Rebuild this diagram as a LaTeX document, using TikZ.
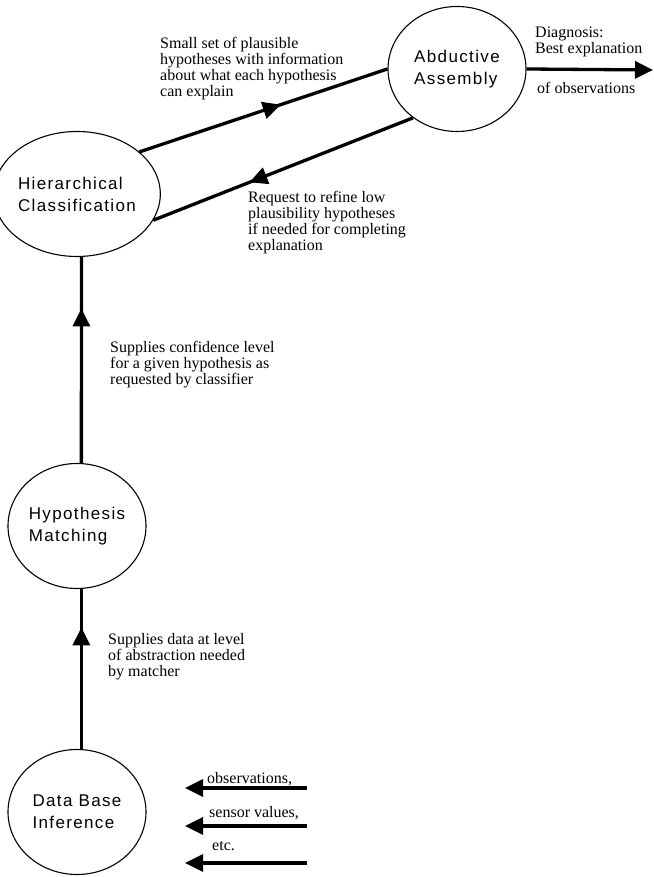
\documentclass[tikz,border=0pt]{standalone}
\usepackage{fontspec}
\setmainfont{Liberation Serif}
\newfontfamily\circfont{Liberation Sans}[LetterSpace=8]
\usetikzlibrary{shapes.geometric,arrows.meta,decorations.markings}
\tikzset{
	proc/.style={ellipse, draw, line width=1.1pt, minimum width=138pt, minimum height=125pt, inner sep=0pt, align=left, font=\circfont\fontsize{17}{22}\selectfont},
	note/.style={anchor=north west, inner sep=0pt, align=left, font=\fontsize{16}{16}\selectfont},
	link/.style={line width=3.3pt},
	tip/.style={-{Triangle[length=18pt,width=17pt]}},
	midarrow/.style={postaction={decorate}, decoration={markings, mark=at position #1 with {\arrow{Triangle[length=18pt,width=17pt]}}}}
}
\begin{document}
\begin{tikzpicture}[x=1pt,y=1pt]
	\useasboundingbox (0,0) rectangle (653,877);
	\node[proc] (aa) at (457,808) {Abductive\\Assembly};
	\node[proc] (hc) at (77,683) {Hierarchical\\Classification};
	\node[proc] (hm) at (77,351) {Hypothesis\\Matching};
	\node[proc] (db) at (77,65) {Data Base\\Inference};
	\coordinate (diag) at (653,807);
	\coordinate (obsa) at (307,89); \coordinate (obsb) at (185,89);
	\coordinate (sena) at (307,51); \coordinate (senb) at (185,51);
	\coordinate (etca) at (307,14); \coordinate (etcb) at (185,14);
	\draw[link, midarrow=0.57] (hc.34) -- (aa.180);
	\draw[link, midarrow=0.63] (aa.228) -- (hc.-19);
	\draw[link, midarrow=0.75] (hm.86) -- (hc.274);
	\draw[link, midarrow=0.76] (db.86) -- (hm.274);
	\draw[link, tip] (aa.east) -- (diag);
	\draw[link, tip] (obsa) -- (obsb);
	\draw[link, tip] (sena) -- (senb);
	\draw[link, tip] (etca) -- (etcb);
	\node[note] (small) at (160,840) {Small set of plausible\\hypotheses with information\\about what each hypothesis\\can explain};
	\node[note] (req) at (248,686) {Request to refine low\\plausibility hypotheses\\if needed for completing\\explanation};
	\node[note] (conf) at (110,536) {Supplies confidence level\\for a given hypothesis as\\requested by classifier};
	\node[note] (supp) at (108,244) {Supplies data at level\\of abstraction needed\\by matcher};
	\node[note] (dlab) at (535,850) {Diagnosis:\\Best explanation};
	\node[note] (olab) at (537,795) {of observations};
	\node[note] (obs) at (207,105) {observations,};
	\node[note] (sen) at (209,71) {sensor values,};
	\node[note] (etc) at (212,36) {etc.};
\end{tikzpicture}
\end{document}
